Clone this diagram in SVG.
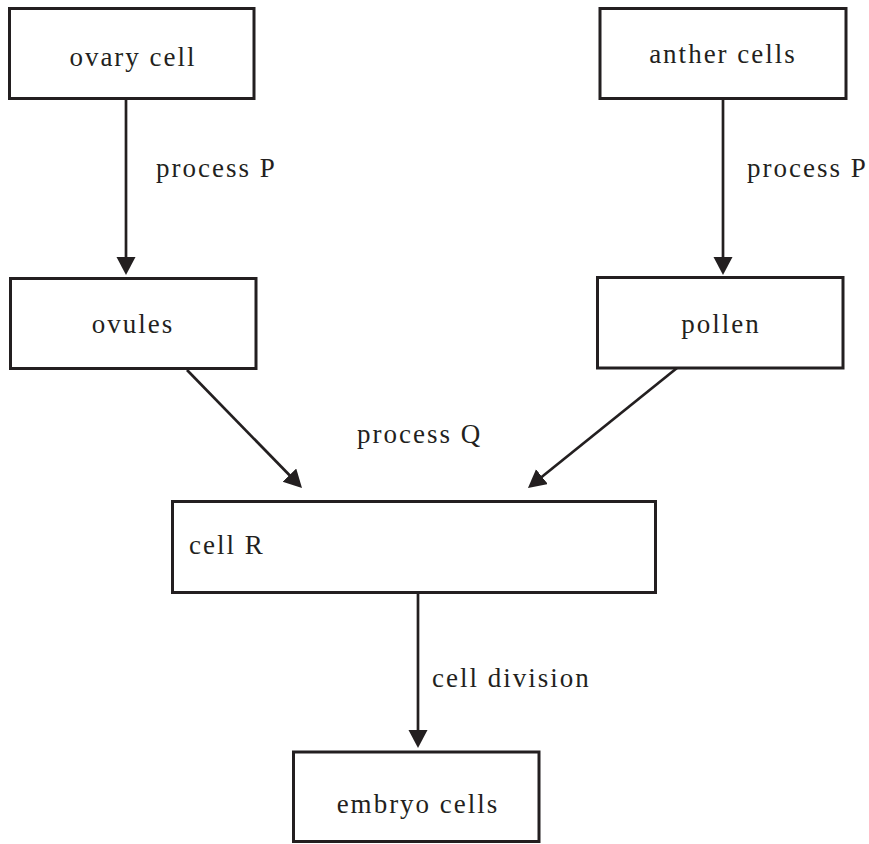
<svg xmlns="http://www.w3.org/2000/svg" width="869" height="844" viewBox="0 0 869 844">
<style>
.box{fill:#fff;stroke:#231f20;stroke-width:3}
.lbl{font-family:"Liberation Serif","Times New Roman",serif;font-size:27px;letter-spacing:2px;fill:#231f20}
.mid{text-anchor:middle}
.conn{stroke:#231f20;stroke-width:2.7;fill:none;marker-end:url(#ah)}
</style>
<defs>
<marker id="ah" markerUnits="userSpaceOnUse" markerWidth="20" markerHeight="20" refX="10" refY="9.5" orient="auto">
<path d="M0,0 L18,9.5 L0,19 z" fill="#231f20"/>
</marker>
</defs>
<rect width="869" height="844" fill="#fff"/>
<g id="connectors">
<line class="conn" x1="126" y1="99" x2="126" y2="267"/>
<line class="conn" x1="723" y1="99" x2="723" y2="267"/>
<line class="conn" x1="187" y1="370" x2="296.4" y2="482.3"/>
<line class="conn" x1="677" y1="368" x2="534.2" y2="483"/>
<line class="conn" x1="418" y1="593" x2="418" y2="740"/>
</g>
<g id="labels">
<text class="lbl" x="156" y="177">process P</text>
<text class="lbl" x="747" y="177">process P</text>
<text class="lbl" x="357" y="443">process Q</text>
<text class="lbl" x="432" y="687">cell division</text>
</g>
<g id="ovary"><rect class="box" x="9.5" y="8.5" width="244.5" height="90"/><text class="lbl mid" x="133" y="66">ovary cell</text></g>
<g id="anther"><rect class="box" x="600" y="8.5" width="246" height="90"/><text class="lbl mid" x="723" y="63">anther cells</text></g>
<g id="ovules"><rect class="box" x="10.5" y="278.5" width="245.5" height="90"/><text class="lbl mid" x="133" y="333">ovules</text></g>
<g id="pollen"><rect class="box" x="597.5" y="277.5" width="245.5" height="90.5"/><text class="lbl mid" x="721" y="333">pollen</text></g>
<g id="cellR"><rect class="box" x="172.5" y="501.5" width="483" height="91"/><text class="lbl" x="189" y="554">cell R</text></g>
<g id="embryo"><rect class="box" x="293.5" y="752" width="245.5" height="89.5"/><text class="lbl mid" x="418" y="813">embryo cells</text></g>
</svg>
